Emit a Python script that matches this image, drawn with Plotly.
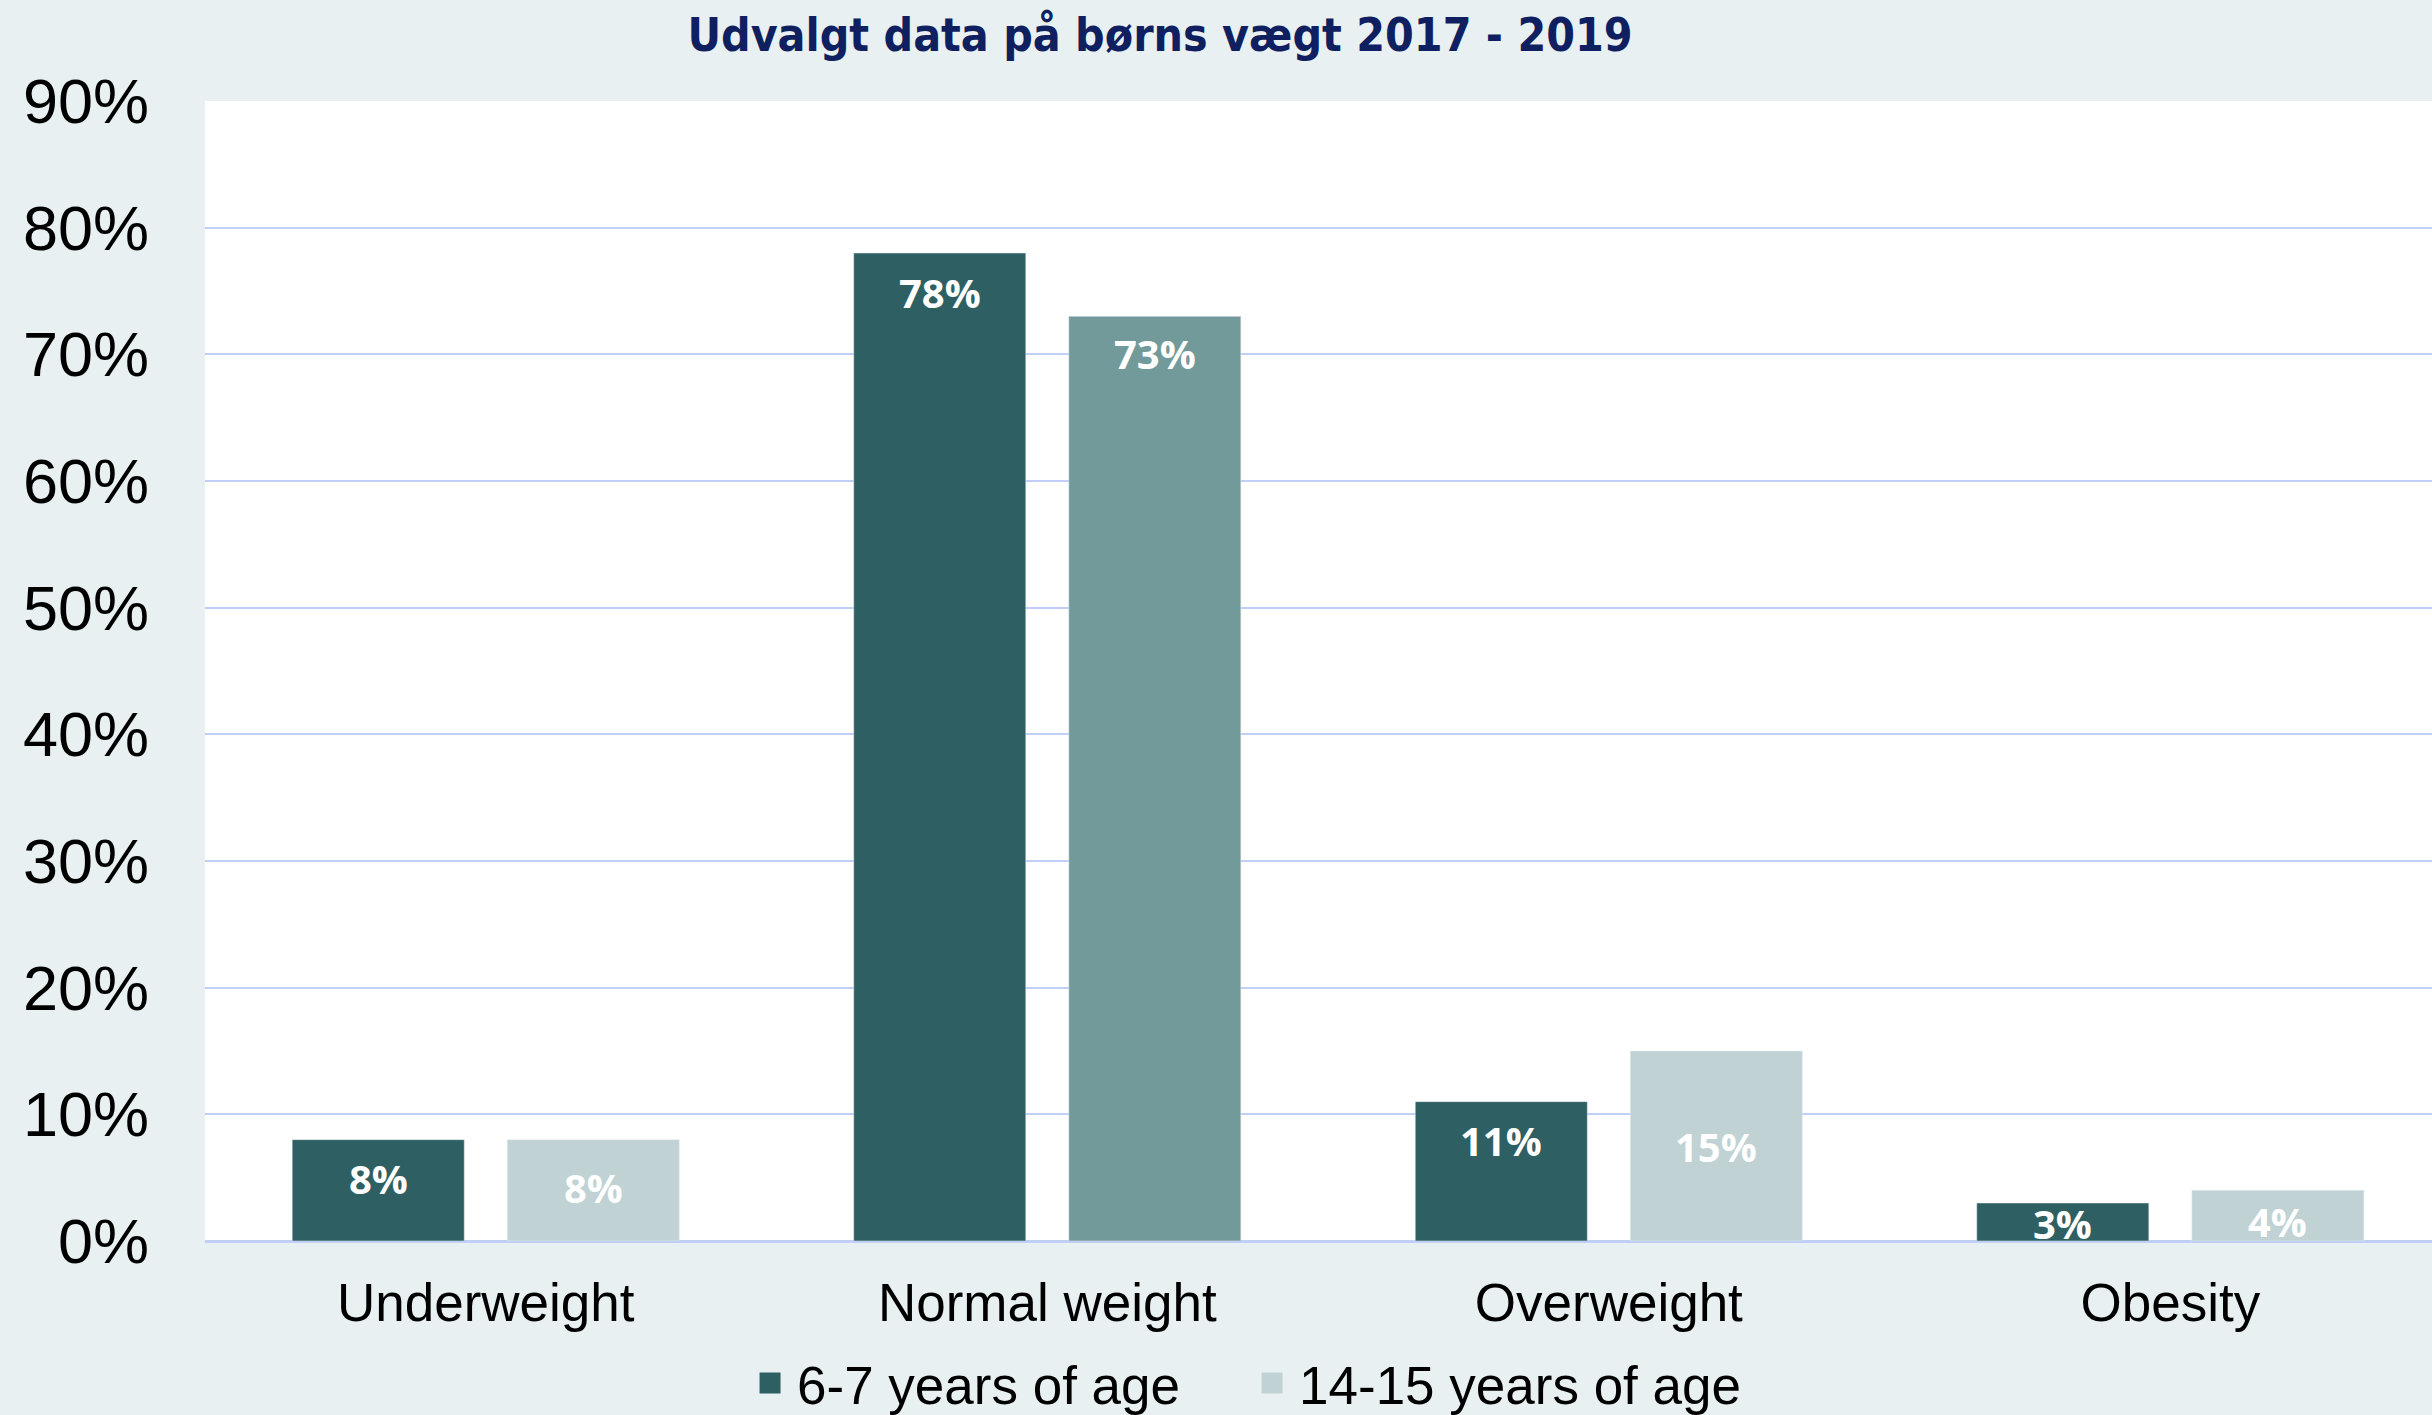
import plotly.graph_objects as go

categories = ["Underweight", "Normal weight", "Overweight", "Obesity"]
series_names = ["6-7 years of age", "14-15 years of age"]
values_young = [8, 78, 11, 3]
values_teen = [8, 73, 15, 4]
y_ticks = [0, 10, 20, 30, 40, 50, 60, 70, 80, 90]

# styles
DARK = "#2e5f62"
MID = "#739a9b"
LIGHT = "#c0d2d4"
GRID = "#c0cef8"
teen_colors = [LIGHT, MID, LIGHT, LIGHT]
label_offsets_young = [39, 39, 39, 20]
label_offsets_teen = [48, 37, 95, 31]

W, H = 2432, 1415
ML, MR, MT, MB = 205, 0, 101, 174
BARGAP = 0.234
BARGROUPGAP = 0.2
X_RANGE = [-0.5, 3.466]

fig = go.Figure()
fig.add_trace(go.Bar(x=categories, y=values_young, name=series_names[0],
                     marker=dict(color=DARK), showlegend=False))
fig.add_trace(go.Bar(x=categories, y=values_teen, name=series_names[1],
                     marker=dict(color=teen_colors), showlegend=False))
# legend entries
fig.add_trace(go.Scatter(x=[None], y=[None], mode="markers", name=series_names[0],
                         marker=dict(symbol="square", size=16, color=DARK,
                                     line=dict(width=5, color=DARK))))
fig.add_trace(go.Scatter(x=[None], y=[None], mode="markers", name=series_names[1],
                         marker=dict(symbol="square", size=16, color=LIGHT,
                                     line=dict(width=5, color=LIGHT))))

plot_w = W - ML - MR
cat_w = plot_w / (X_RANGE[1] - X_RANGE[0])
slot = cat_w * (1 - BARGAP) / 2
annotations = []
for vals, offs, sign in [(values_young, label_offsets_young, -1), (values_teen, label_offsets_teen, 1)]:
    for c, v, o in zip(categories, vals, offs):
        annotations.append(dict(x=c, y=v, xref="x", yref="y", text=f"{v}%",
                                showarrow=False, xshift=sign * slot / 2, yshift=-o,
                                yanchor="middle",
                                font=dict(family="Open Sans", size=40, color="white", weight="bold")))

fig.update_layout(
    width=W, height=H,
    margin=dict(l=ML, r=MR, t=MT, b=MB),
    paper_bgcolor="#e8f0f2",
    plot_bgcolor="white",
    barmode="group",
    bargap=BARGAP,
    bargroupgap=BARGROUPGAP,
    title=dict(text="Udvalgt data på børns vægt 2017 - 2019",
               x=1160 / W, xanchor="center", y=0.975, yanchor="middle", yref="container",
               font=dict(family="DejaVu Sans Condensed", size=46,
                         color="#0f1f5f", weight="bold")),
    font=dict(family="Liberation Sans, Arial", color="black"),
    xaxis=dict(showgrid=False, ticks="", tickfont=dict(size=53), ticklabelstandoff=26,
               showline=False, zeroline=False, range=X_RANGE),
    yaxis=dict(range=[0, 90], tickvals=y_ticks, ticktext=[f"{t}%" for t in y_ticks],
               tickfont=dict(size=63), gridcolor=GRID, gridwidth=2,
               zeroline=True, zerolinecolor=GRID, zerolinewidth=3,
               ticks="", ticklabelstandoff=55, showline=False),
    legend=dict(orientation="h", x=0.2416, xanchor="left", yref="container",
                y=1 - 1383 / H, yanchor="middle",
                font=dict(size=53), bgcolor="rgba(0,0,0,0)", itemwidth=44,
                entrywidth=443, traceorder="normal"),
    annotations=annotations,
)

fig.write_html("out.html", config={"displayModeBar": False},
               post_script="document.body.style.margin='0px';")
